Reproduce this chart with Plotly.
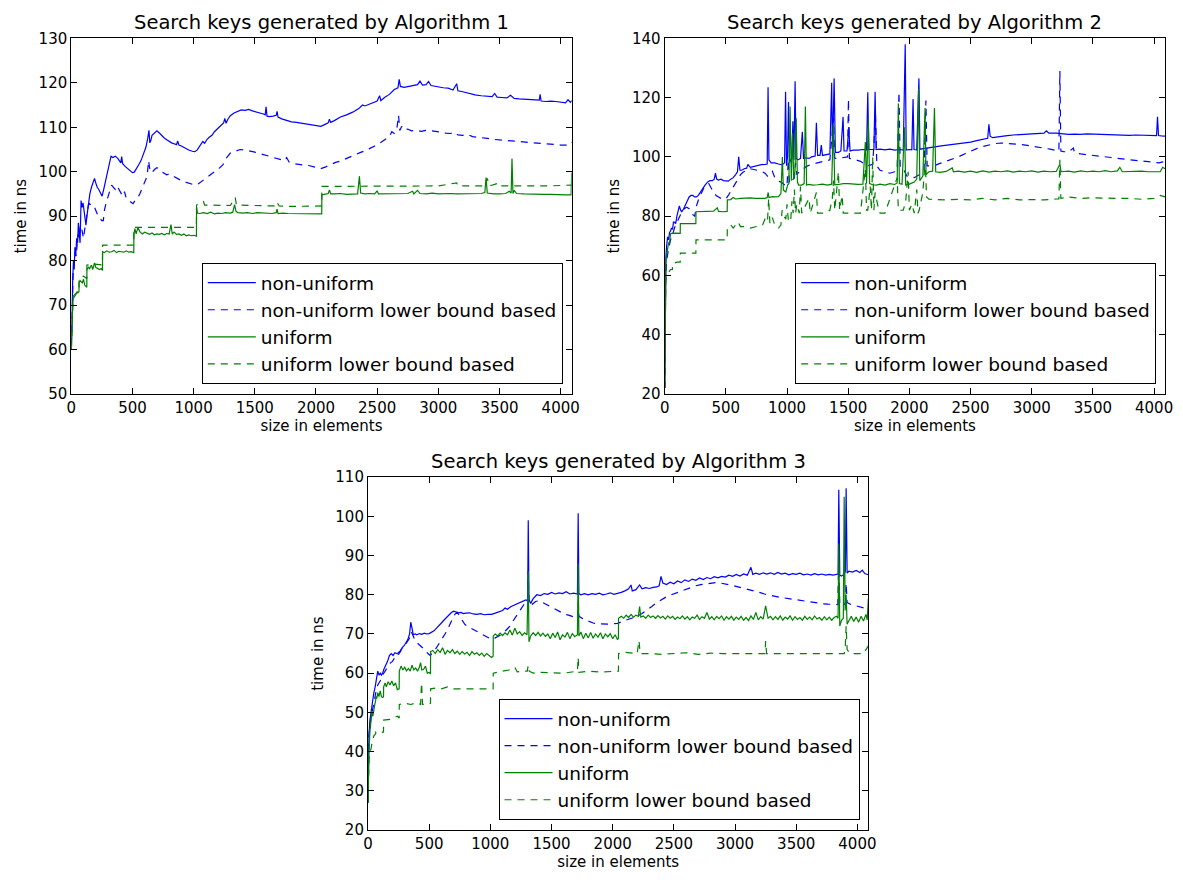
import plotly.graph_objects as go

# ---------------------------------------------------------------------------
# Measured lookup times (ns) against array size (elements), as (size, time).
# ---------------------------------------------------------------------------

ALG1_NONUNIFORM = [
    (1, 61), (6, 70), (12, 76), (18, 80), (24, 78), (30, 83), (36, 81), (44, 85), (52, 84), (58, 88.5),
    (64, 86), (72, 84), (80, 93.5), (88, 92), (96, 93), (104, 91), (112, 89), (120, 88), (128, 90), (140, 93),
    (152, 95), (165, 96.5), (178, 97.5), (190, 98.5), (200, 97.5), (212, 96.5), (225, 96), (240, 95), (252, 94.5),
    (265, 96), (280, 98), (295, 100), (310, 101.5), (325, 103.5), (340, 103.2), (360, 103.5), (380, 103),
    (395, 102.5), (405, 102), (412, 103.4), (420, 101.8), (440, 101.2), (460, 100.7), (480, 100.2), (500, 99.8),
    (515, 99.9), (530, 100.5), (550, 101.5), (570, 102.5), (590, 104), (610, 105.5), (625, 107.5), (635, 109.3),
    (642, 106.5), (650, 107), (660, 108.2), (680, 108.8), (700, 109.2), (720, 108.7), (740, 108.1), (760, 107.6),
    (780, 107.2), (800, 106.8), (820, 106.5), (840, 106.3), (860, 106.1), (870, 106.9), (880, 106), (900, 105.8),
    (930, 105.3), (960, 104.9), (990, 104.6), (1010, 104.5), (1030, 104.9), (1045, 105.6), (1060, 106.3),
    (1075, 106.8), (1090, 106.4), (1110, 107.3), (1130, 107.8), (1150, 108.2), (1170, 109), (1190, 109.5),
    (1210, 109.9), (1230, 110.6), (1245, 111), (1255, 112), (1265, 110.9), (1280, 111.8), (1300, 112.6),
    (1330, 113.2), (1360, 113.6), (1390, 113.9), (1420, 113.8), (1450, 114), (1480, 113.7), (1510, 113.5),
    (1540, 113.2), (1570, 113), (1585, 112.8), (1592, 114.6), (1600, 112.5), (1620, 112.4), (1650, 112.5),
    (1675, 112.7), (1682, 113.6), (1690, 112.3), (1720, 111.9), (1760, 111.5), (1800, 111.2), (1840, 111.1),
    (1880, 110.9), (1920, 110.7), (1960, 110.5), (2000, 110.3), (2040, 110.2), (2070, 110.6), (2100, 111),
    (2110, 111.8), (2120, 111.1), (2150, 111.5), (2200, 112.3), (2250, 112.8), (2300, 113.4), (2350, 114.2),
    (2380, 115), (2400, 114.8), (2450, 115.4), (2500, 115.9), (2520, 117.1), (2530, 116), (2560, 116.7),
    (2600, 117.4), (2640, 118.5), (2670, 118.9), (2680, 120.8), (2690, 119.2), (2720, 119), (2760, 119.2),
    (2800, 119.3), (2830, 119.6), (2850, 120.4), (2870, 119.5), (2900, 119.6), (2920, 120.3), (2940, 119.4),
    (2970, 119.2), (3000, 119), (3040, 118.9), (3080, 118.8), (3120, 118.4), (3150, 119.8), (3160, 118.2),
    (3200, 118), (3250, 117.6), (3300, 117.3), (3350, 117.1), (3400, 117.0), (3440, 116.9), (3460, 117.6),
    (3480, 116.8), (3520, 116.7), (3560, 116.6), (3590, 117.2), (3620, 116.5), (3660, 116.4), (3700, 116.3),
    (3760, 116.1), (3800, 116), (3825, 116.1), (3832, 117.4), (3840, 115.9), (3880, 115.8), (3920, 115.9),
    (3960, 115.8), (4000, 115.6), (4040, 115.5), (4060, 116.2), (4080, 115.6), (4090, 116.0),
]

ALG1_NONUNIFORM_LB = [
    (1, 61), (8, 72), (16, 78), (24, 80), (32, 82), (40, 81), (48, 84), (56, 86), (64, 85), (72, 87.5), (80, 88),
    (90, 86), (100, 85), (110, 87), (120, 89), (130, 90.5), (140, 92.5), (150, 92.8), (160, 92.5), (175, 92.6),
    (190, 92), (205, 91), (220, 90), (235, 89.5), (250, 89), (262, 89), (272, 91.5), (285, 93), (300, 94.5),
    (315, 96), (330, 97), (345, 96.5), (360, 96), (375, 96.8), (390, 96), (405, 95.5), (420, 94.5), (435, 95.5),
    (450, 94), (470, 93.5), (490, 93), (505, 92.8), (520, 93.5), (540, 94), (560, 95), (580, 96.3), (600, 97.5),
    (620, 99), (632, 102.5), (645, 100), (660, 99.8), (680, 100.5), (700, 100.9), (720, 100.6), (740, 100),
    (760, 99.6), (780, 99.3), (800, 99.5), (830, 99), (860, 98.5), (900, 98), (940, 97.6), (980, 97.2),
    (1010, 97), (1040, 97.3), (1070, 97.9), (1100, 98.5), (1140, 99.3), (1180, 100.2), (1210, 100.8),
    (1240, 101.6), (1260, 102.8), (1280, 103.5), (1300, 104.2), (1340, 104.6), (1380, 105), (1420, 104.9),
    (1460, 104.7), (1500, 104.4), (1540, 104.1), (1580, 103.8), (1620, 103.5), (1660, 103.1), (1700, 102.8),
    (1740, 102.5), (1760, 103.2), (1780, 102.2), (1820, 101.8), (1860, 101.6), (1900, 101.5), (1940, 101.4),
    (1980, 101.1), (2000, 100.9), (2040, 100.7), (2080, 101.1), (2120, 101.6), (2160, 102.1), (2200, 102.4),
    (2240, 102.9), (2280, 103.4), (2320, 103.8), (2360, 104.3), (2400, 104.7), (2440, 105.2), (2480, 105.8),
    (2520, 106.4), (2560, 107.1), (2600, 107.9), (2620, 109), (2640, 108.6), (2660, 109.5), (2675, 112.7),
    (2685, 109.3), (2700, 110.2), (2720, 109.4), (2750, 109.6), (2780, 109.2), (2820, 109.3), (2860, 109.1),
    (2900, 109.3), (2940, 109.2), (2980, 109.1), (3020, 108.9), (3060, 108.7), (3100, 108.6), (3130, 108.9),
    (3160, 108.3), (3200, 108.2), (3240, 108.4), (3280, 107.9), (3320, 107.8), (3360, 107.6), (3400, 107.5),
    (3440, 107.3), (3480, 107.2), (3520, 107.1), (3560, 107.0), (3600, 106.9), (3640, 106.8), (3680, 106.7),
    (3720, 106.6), (3760, 106.5), (3800, 106.4), (3840, 106.3), (3880, 106.2), (3920, 106.2), (3960, 106.1),
    (4000, 106.0), (4040, 106.0), (4070, 105.9), (4090, 106.6),
]

ALG1_UNIFORM = [
    (1, 60), (4, 65), (8, 68), (12, 70), (16, 71.5), (24, 71.8), (32, 72), (40, 72.5), (48, 73), (56, 72.8),
    (63, 73), (64, 75), (72, 75.5), (80, 75.3), (90, 75), (100, 75.8), (110, 74.5), (120, 74.2), (127, 74),
    (128, 78), (140, 78.5), (150, 78.2), (165, 79), (175, 78), (190, 79.5), (200, 78.5), (215, 78.3), (230, 78),
    (245, 78.2), (255, 77.8), (256, 82), (270, 81.8), (290, 82.2), (310, 81.9), (330, 82), (350, 82.3),
    (370, 81.8), (390, 82.1), (410, 82), (430, 81.9), (450, 82.2), (470, 81.9), (490, 82), (511, 81.8),
    (512, 86), (520, 87.2), (530, 86), (545, 87.5), (560, 86.5), (580, 86), (600, 86.4), (620, 86.1),
    (640, 85.9), (660, 86.2), (680, 85.8), (700, 86), (720, 85.9), (740, 86.1), (760, 85.8), (780, 86.1),
    (800, 86), (815, 88.1), (825, 86), (840, 86.4), (860, 85.9), (880, 86), (900, 85.7), (920, 86),
    (940, 85.6), (960, 85.8), (980, 85.6), (1000, 85.7), (1023, 85.5), (1024, 92), (1032, 90.7), (1050, 90.6),
    (1080, 90.8), (1110, 90.6), (1140, 90.9), (1170, 90.5), (1200, 90.7), (1230, 90.6), (1260, 90.8),
    (1300, 90.7), (1320, 90.9), (1335, 92.6), (1345, 91.2), (1360, 90.8), (1400, 90.7), (1440, 90.8),
    (1480, 90.6), (1520, 90.8), (1560, 90.7), (1600, 90.7), (1640, 90.6), (1675, 90.8), (1682, 91.6),
    (1690, 90.6), (1730, 90.7), (1770, 90.6), (1810, 90.6), (1850, 90.6), (1890, 90.5), (1930, 90.6),
    (1970, 90.5), (2010, 90.5), (2047, 90.5), (2048, 94.8), (2070, 94.9), (2100, 95.1), (2110, 95.9),
    (2120, 95), (2150, 95), (2200, 95.1), (2250, 94.9), (2300, 95), (2340, 95), (2355, 99), (2365, 95.2),
    (2400, 95), (2440, 95.1), (2480, 95), (2500, 95.7), (2510, 95), (2560, 95), (2600, 95), (2650, 95.1),
    (2700, 95), (2750, 95.1), (2790, 95.6), (2800, 95), (2830, 95.8), (2850, 95.1), (2900, 95), (2950, 95.2),
    (3000, 95), (3050, 95.1), (3100, 95.1), (3150, 95), (3200, 95), (3250, 95.1), (3300, 95), (3350, 95.1),
    (3380, 95.3), (3390, 98.7), (3400, 95.2), (3450, 95), (3500, 95), (3550, 95.1), (3580, 95.6), (3595, 95.2),
    (3602, 103), (3610, 95.1), (3620, 95.8), (3640, 95.1), (3700, 95), (3760, 94.9), (3800, 94.9), (3860, 94.9),
    (3920, 94.9), (3980, 94.8), (4040, 94.8), (4085, 94.8), (4090, 99.8),
]

ALG1_UNIFORM_LB = [
    (1, 60), (8, 68), (16, 72), (32, 72.5), (63, 73), (64, 76), (100, 76.5), (127, 76), (128, 79), (190, 79.2),
    (255, 79), (256, 83.5), (300, 83.5), (350, 83.6), (400, 83.5), (450, 83.5), (511, 83.5), (512, 87.5),
    (600, 87.5), (700, 87.5), (800, 87.4), (900, 87.5), (1023, 87.5), (1024, 92.5), (1080, 93.3), (1090, 92.5),
    (1200, 92.5), (1300, 92.4), (1340, 94.2), (1350, 92.5), (1500, 92.4), (1660, 92.3), (1680, 93.2),
    (1700, 92.3), (1800, 92.2), (1900, 92.3), (2047, 92.3), (2048, 96.7), (2200, 96.7), (2400, 96.8),
    (2600, 96.7), (2800, 96.8), (3000, 96.8), (3150, 97.5), (3160, 96.8), (3380, 96.8), (3400, 98.5),
    (3420, 96.8), (3500, 97.5), (3520, 96.8), (3700, 96.8), (3900, 96.8), (4090, 97.0),
]

ALG2_NONUNIFORM = [
    (1, 22), (3, 50), (6, 62), (10, 66), (16, 70), (24, 73), (32, 72), (40, 74.5), (48, 75), (56, 76),
    (64, 75.5), (72, 78), (80, 78), (90, 77.5), (100, 80), (110, 82.5), (120, 83.5), (130, 82), (140, 81.5),
    (155, 82.5), (170, 84), (185, 85.5), (200, 86.5), (215, 87), (230, 87), (245, 86.5), (260, 86.5), (275, 87),
    (290, 88), (310, 89), (330, 90.5), (350, 91.5), (370, 92), (390, 92), (405, 92.5), (415, 94.5), (425, 92.5),
    (440, 92.2), (460, 92.5), (480, 92), (500, 91.8), (520, 91.8), (540, 92.5), (560, 93), (580, 94), (595, 95),
    (605, 100), (615, 95.5), (630, 95.5), (650, 96), (670, 96.2), (680, 97.5), (700, 96.5), (730, 96.8),
    (760, 97.2), (790, 97.4), (820, 97.5), (838, 97.6), (845, 123.5), (852, 99), (870, 98), (900, 98),
    (930, 97.6), (960, 97.3), (980, 98), (988, 122), (996, 97), (1004, 100), (1012, 118.5), (1020, 98),
    (1030, 99), (1040, 100), (1048, 112), (1056, 99), (1066, 125.5), (1074, 99.5), (1090, 99), (1110, 99.5),
    (1125, 108.5), (1135, 99.5), (1150, 99.7), (1180, 99.5), (1200, 100), (1230, 100.3), (1240, 111.5),
    (1250, 100.5), (1270, 100.5), (1280, 104), (1290, 100.5), (1320, 100.8), (1350, 101), (1365, 125),
    (1372, 101), (1385, 126.5), (1395, 101.5), (1420, 101.5), (1440, 102), (1458, 113.5), (1466, 102),
    (1490, 102), (1505, 110), (1515, 102), (1540, 102.3), (1580, 102.3), (1620, 102.5), (1650, 102.3),
    (1660, 121.8), (1668, 102.5), (1690, 102.6), (1710, 102.5), (1720, 122), (1728, 102.5), (1760, 102.6),
    (1800, 102.4), (1840, 102.6), (1880, 102.3), (1920, 102.5), (1950, 102.3), (1966, 138), (1974, 102.3),
    (2000, 102.5), (2020, 102.4), (2030, 119.5), (2038, 102.5), (2060, 102.4), (2078, 126.5), (2086, 102.6),
    (2110, 102.8), (2140, 103), (2180, 103.2), (2220, 103.5), (2260, 103.7), (2300, 103.9), (2350, 104.2),
    (2400, 104.4), (2450, 104.7), (2500, 105), (2550, 105.5), (2600, 106), (2640, 106.3), (2650, 111),
    (2660, 107), (2680, 106.5), (2720, 106.8), (2760, 107), (2800, 107.2), (2850, 107.4), (2900, 107.5),
    (2950, 107.6), (3000, 107.7), (3050, 107.8), (3100, 108), (3120, 108.8), (3140, 108), (3200, 108),
    (3250, 107.8), (3300, 107.6), (3350, 107.7), (3400, 107.6), (3450, 107.8), (3500, 107.7), (3550, 107.6),
    (3600, 107.6), (3650, 107.5), (3700, 107.5), (3750, 107.4), (3800, 107.3), (3850, 107.4), (3900, 107.3),
    (3950, 107.3), (4000, 107.2), (4020, 107.2), (4028, 113.5), (4036, 107.2), (4060, 107.1), (4090, 107),
]

ALG2_NONUNIFORM_LB = [
    (1, 22), (4, 52), (8, 60), (16, 65), (24, 68), (32, 69), (48, 72), (64, 73.5), (80, 76), (100, 78),
    (120, 80), (140, 81.5), (160, 82.5), (180, 83), (200, 82.5), (215, 81.5), (230, 80.5), (245, 80),
    (260, 83.5), (280, 86), (300, 88), (320, 89.5), (340, 90.5), (360, 91), (380, 89.5), (400, 88), (420, 87),
    (440, 86.5), (460, 86), (480, 85.8), (500, 85.8), (520, 87), (540, 88.5), (560, 90), (580, 91.5), (600, 93),
    (620, 94), (640, 94.8), (660, 95.3), (680, 95.8), (700, 96), (730, 95.8), (760, 95.5), (790, 95.2),
    (820, 94.5), (840, 93.5), (860, 94.5), (880, 95.2), (900, 93), (920, 92), (950, 91.5), (980, 90.5),
    (1000, 90), (1010, 99), (1020, 91), (1040, 92), (1060, 93), (1070, 98), (1080, 94), (1100, 95),
    (1130, 96), (1160, 96.8), (1200, 97.5), (1250, 98), (1300, 98.5), (1350, 99), (1380, 113), (1390, 99.5),
    (1420, 99.5), (1460, 99.7), (1495, 100), (1502, 119.5), (1510, 99.5), (1550, 99.2), (1600, 98.5),
    (1640, 97.5), (1660, 97), (1700, 97.5), (1710, 104), (1722, 116), (1734, 97), (1760, 95.5), (1800, 95),
    (1840, 94.5), (1880, 95), (1900, 95.5), (1915, 122), (1925, 96.5), (1950, 96), (1980, 93.5), (2000, 93.5),
    (2040, 93), (2080, 94), (2100, 95), (2120, 95.5), (2135, 119), (2145, 97), (2170, 97), (2200, 97),
    (2250, 97.8), (2300, 98.5), (2350, 99.2), (2400, 100), (2450, 101), (2500, 102), (2550, 102.8),
    (2600, 103.5), (2650, 104), (2700, 104.5), (2750, 104.7), (2800, 104.6), (2850, 104.4), (2900, 104.2),
    (2950, 104), (3000, 103.7), (3050, 103.3), (3100, 103), (3150, 102.6), (3200, 102.2), (3222, 102),
    (3230, 129), (3238, 102), (3260, 101.8), (3300, 101.6), (3340, 103), (3350, 101.4), (3400, 101),
    (3450, 100.8), (3500, 100.5), (3550, 100.3), (3600, 100), (3650, 99.8), (3700, 99.5), (3750, 99.3),
    (3800, 99), (3850, 98.8), (3900, 98.6), (3950, 98.4), (4000, 98.2), (4040, 98), (4070, 98.3), (4090, 99),
]

ALG2_UNIFORM = [
    (1, 22), (3, 48), (6, 58), (10, 64), (16, 67), (24, 70), (32, 71), (40, 71), (48, 74), (63, 74.3),
    (64, 74.2), (90, 74.3), (127, 74.2), (128, 77.5), (160, 77.5), (200, 77.6), (230, 77.4), (255, 77.5),
    (256, 81.5), (300, 81.6), (350, 81.5), (400, 81.7), (430, 82.8), (440, 81.6), (480, 81.5), (511, 81.6),
    (512, 85.5), (540, 85.6), (560, 86.3), (580, 85.8), (620, 86), (660, 86.1), (700, 86.2), (740, 86),
    (780, 86.1), (820, 86), (838, 86.3), (846, 88), (852, 86.3), (880, 86.6), (900, 86.5), (930, 86.6),
    (950, 87.6), (962, 100), (970, 88.8), (990, 88.2), (1005, 90.5), (1015, 91), (1025, 117), (1035, 92),
    (1045, 108), (1055, 92.5), (1065, 95), (1075, 113), (1085, 91.5), (1095, 90.5), (1120, 90.5), (1140, 91),
    (1150, 117), (1160, 90.5), (1180, 90.7), (1210, 90.5), (1250, 90.6), (1290, 90.8), (1330, 90.5),
    (1365, 90.8), (1378, 111), (1390, 90.6), (1420, 90.7), (1460, 91), (1500, 91), (1540, 90.8), (1580, 90.7),
    (1620, 90.8), (1640, 105), (1650, 91), (1665, 113), (1675, 91), (1700, 90.6), (1730, 90.5), (1760, 90.8),
    (1800, 90.5), (1840, 91), (1880, 90.7), (1900, 91.2), (1910, 118), (1918, 91), (1940, 90.8), (1960, 110),
    (1970, 90.5), (2000, 90.8), (2040, 91.5), (2060, 92.5), (2075, 123), (2085, 92), (2110, 93.5),
    (2128, 116.5), (2136, 94), (2160, 95), (2190, 95.2), (2205, 116.5), (2215, 95), (2250, 94.8), (2300, 95.1),
    (2350, 96.3), (2360, 95), (2400, 95.2), (2450, 94.9), (2500, 95.2), (2550, 94.8), (2600, 95.3),
    (2650, 94.9), (2700, 95.2), (2750, 95), (2800, 95.3), (2850, 94.9), (2900, 95.2), (2950, 95), (3000, 95.3),
    (3050, 94.9), (3100, 95.2), (3150, 95), (3200, 95.1), (3230, 97.5), (3240, 95), (3300, 95.2),
    (3350, 94.9), (3400, 95.3), (3450, 95), (3500, 95.2), (3550, 95), (3600, 95.4), (3650, 95), (3700, 95.3),
    (3720, 96.5), (3740, 95), (3800, 95.1), (3850, 95), (3900, 95.2), (3950, 95), (4000, 95.1), (4050, 95),
    (4070, 96.5), (4090, 96),
]

ALG2_UNIFORM_LB = [
    (1, 22), (4, 50), (8, 58), (16, 60), (32, 61), (48, 62), (63, 62), (64, 64), (100, 64.5), (127, 64.5),
    (128, 67.5), (180, 67.5), (255, 67.5), (256, 72), (300, 72), (400, 72), (511, 72), (512, 76), (540, 77),
    (560, 76), (600, 78), (620, 76.5), (660, 76.5), (700, 76), (750, 76.5), (800, 77), (820, 79), (840, 78),
    (850, 86), (860, 77.5), (880, 79.5), (900, 77), (930, 76), (950, 77), (960, 82), (975, 80), (990, 79),
    (1000, 84), (1010, 79), (1020, 78), (1030, 78.5), (1040, 85), (1050, 81), (1060, 89), (1070, 81),
    (1080, 84), (1100, 81), (1110, 90), (1120, 81), (1180, 86), (1190, 81), (1240, 88), (1250, 81),
    (1300, 81), (1350, 82), (1370, 86), (1380, 92), (1390, 82), (1420, 95), (1430, 82), (1450, 87),
    (1460, 81), (1500, 81), (1600, 81), (1640, 96), (1650, 82), (1660, 82), (1680, 90), (1690, 82),
    (1700, 100), (1710, 82), (1720, 88), (1740, 84), (1760, 81), (1800, 81), (1900, 93), (1910, 82),
    (1950, 82), (1970, 85), (1990, 95), (2000, 82), (2020, 84), (2040, 81), (2060, 89), (2070, 81),
    (2080, 82), (2110, 88), (2130, 99), (2140, 86.5), (2160, 85.7), (2200, 85.6), (2300, 85.5), (2400, 85.7),
    (2500, 85.5), (2600, 86), (2700, 85.5), (2800, 86), (2900, 85.5), (3000, 85.6), (3100, 85.5), (3200, 85.8),
    (3222, 85.8), (3230, 99), (3238, 86), (3300, 86.5), (3400, 86), (3500, 86.2), (3600, 86), (3700, 86),
    (3800, 86), (3900, 85.7), (4000, 86), (4050, 87), (4090, 86.5),
]

ALG3_NONUNIFORM = [
    (1, 27), (4, 38), (8, 44), (16, 48), (24, 50), (32, 52), (40, 53), (48, 55), (56, 56), (64, 58), (72, 59),
    (80, 60.5), (90, 59.5), (100, 60), (110, 59.5), (120, 60), (130, 61), (145, 62), (160, 63), (175, 64.5),
    (190, 65), (205, 64.5), (220, 65.2), (235, 65), (250, 64.8), (265, 65.5), (280, 66.5), (295, 67),
    (310, 67.8), (325, 68.5), (340, 70), (350, 73), (360, 71.5), (370, 69.8), (385, 70), (400, 69.8),
    (420, 70.1), (440, 69.9), (460, 70.2), (480, 70), (500, 70.1), (520, 70.5), (540, 70.8), (560, 71.5),
    (580, 72.3), (600, 72.8), (620, 73.5), (640, 74.2), (660, 74.8), (680, 75.4), (700, 75.8), (720, 75.5),
    (740, 75.4), (760, 75.5), (780, 75.2), (800, 75.3), (830, 75.4), (860, 75.1), (890, 75), (920, 75.2),
    (950, 74.9), (980, 75), (1010, 75), (1040, 75.3), (1070, 75.6), (1100, 76), (1120, 76.6), (1140, 76.3),
    (1170, 77), (1200, 77.4), (1230, 77.8), (1260, 78.4), (1290, 78.7), (1305, 78.5), (1310, 99), (1316, 78.8),
    (1330, 77.8), (1350, 79), (1380, 80), (1410, 79.8), (1440, 80.3), (1470, 80.1), (1500, 80.6), (1530, 80.2),
    (1560, 80.5), (1590, 80.3), (1620, 80.8), (1650, 80.2), (1680, 80.4), (1712, 80.2), (1718, 100.8),
    (1724, 80.3), (1740, 80), (1770, 80.3), (1800, 80), (1830, 80.3), (1860, 80.1), (1890, 80.4), (1920, 80),
    (1950, 80.2), (1980, 80.5), (2010, 80.1), (2040, 80.3), (2070, 80.6), (2100, 81), (2130, 81.5),
    (2150, 82.5), (2160, 81), (2190, 81.3), (2220, 82.5), (2240, 81.5), (2270, 81.8), (2300, 81.6),
    (2330, 81.9), (2360, 82), (2380, 82.3), (2395, 84.7), (2410, 83), (2440, 82.6), (2470, 83.2), (2500, 82.8),
    (2530, 83.5), (2560, 83.1), (2590, 83.8), (2620, 83.4), (2650, 84), (2680, 83.7), (2710, 84.3),
    (2740, 83.9), (2770, 84.4), (2800, 84.1), (2830, 84.6), (2860, 84.3), (2890, 84.7), (2920, 84.5),
    (2950, 85), (2980, 84.7), (3010, 85.2), (3040, 84.8), (3070, 85.3), (3100, 85), (3130, 87), (3145, 85.2),
    (3170, 85.5), (3200, 85.2), (3230, 85.6), (3260, 85.3), (3290, 85.6), (3320, 85.2), (3350, 85.7),
    (3380, 85.3), (3410, 85.5), (3440, 85.1), (3470, 85.4), (3500, 85.2), (3530, 85.5), (3560, 85.1),
    (3590, 85.3), (3620, 85), (3650, 85.4), (3680, 85.1), (3710, 85.3), (3740, 85), (3770, 85.2), (3800, 85),
    (3830, 85.1), (3842, 85.3), (3848, 106.8), (3856, 85), (3870, 84.8), (3890, 85.2), (3902, 86),
    (3908, 107.2), (3916, 85.5), (3930, 86), (3960, 85.8), (3990, 86.2), (4020, 85.7), (4040, 86.3),
    (4060, 85.4), (4090, 85.1),
]

ALG3_NONUNIFORM_LB = [
    (1, 27), (4, 38), (8, 44), (16, 47), (32, 50), (48, 53), (64, 55), (80, 57), (100, 58), (120, 59.5),
    (140, 60.5), (160, 61.5), (180, 62.5), (200, 63), (220, 64), (240, 65), (260, 65.5), (280, 66.5),
    (300, 67), (320, 68), (340, 69), (355, 70.5), (370, 69.5), (390, 68), (410, 67.5), (430, 67), (450, 66.5),
    (470, 65.8), (490, 65), (510, 64.5), (530, 65.5), (550, 66), (570, 67), (590, 68), (610, 69), (630, 70),
    (650, 71), (670, 72.5), (690, 74), (710, 75), (730, 75.5), (750, 74.5), (770, 73.5), (790, 72.5),
    (810, 72), (840, 71.5), (870, 71), (900, 70.5), (930, 70), (960, 69.3), (990, 68.8), (1010, 68.6),
    (1040, 69), (1070, 69.5), (1100, 70), (1130, 71), (1160, 72), (1190, 73.5), (1220, 75), (1250, 76.5),
    (1280, 77.8), (1305, 78.3), (1310, 86), (1316, 77.5), (1340, 77.5), (1370, 78.3), (1400, 78.5),
    (1430, 78), (1460, 77.6), (1490, 77), (1520, 76.5), (1550, 76), (1580, 75.5), (1610, 75), (1640, 74.8),
    (1670, 74.5), (1700, 74.2), (1712, 74), (1718, 78), (1724, 74.5), (1760, 73.8), (1800, 73.2),
    (1840, 72.8), (1880, 72.6), (1920, 72.5), (1960, 72.5), (2000, 72.6), (2040, 72.7), (2080, 73.2),
    (2120, 73.6), (2160, 74), (2200, 74.5), (2240, 75.2), (2280, 76), (2320, 77), (2360, 78), (2400, 78.8),
    (2440, 79.5), (2480, 80), (2520, 80.5), (2560, 81), (2600, 81.5), (2640, 81.9), (2680, 82.3),
    (2720, 82.6), (2760, 82.8), (2800, 83), (2840, 83.1), (2880, 83), (2920, 82.8), (2960, 82.5), (3000, 82.2),
    (3040, 81.9), (3080, 81.6), (3120, 81.3), (3160, 81), (3200, 80.6), (3240, 80.2), (3280, 79.9),
    (3320, 79.6), (3360, 79.4), (3400, 79.2), (3440, 79), (3480, 78.8), (3520, 78.6), (3560, 78.4),
    (3600, 78.2), (3640, 78), (3680, 77.8), (3720, 77.7), (3760, 77.6), (3800, 77.5), (3840, 77.5),
    (3848, 90), (3856, 77.5), (3890, 77.4), (3902, 78), (3908, 83), (3916, 78), (3950, 77.5), (4000, 77),
    (4040, 76.8), (4070, 76.5), (4090, 76.5),
]

ALG3_UNIFORM = [
    (1, 27), (4, 35), (8, 40), (16, 45), (24, 48), (32, 50), (40, 49), (48, 51), (56, 52), (63, 53), (64, 54),
    (72, 53.5), (80, 55), (90, 54), (100, 55.5), (110, 54), (120, 53.8), (127, 54), (128, 56.5), (140, 57.5),
    (150, 56.5), (165, 57.8), (180, 57), (195, 58), (210, 56.8), (225, 57.5), (240, 55.8), (255, 56),
    (256, 60.5), (270, 61.8), (285, 60.8), (300, 61.5), (315, 60.6), (330, 61.2), (345, 60.5), (360, 62),
    (375, 60.8), (390, 61.3), (405, 60.5), (420, 61.5), (430, 62.7), (440, 60.8), (455, 61), (470, 61.8),
    (485, 60), (500, 60.2), (511, 59.8), (512, 65.5), (530, 65.8), (550, 65), (570, 66), (590, 65.3),
    (610, 66.5), (630, 64.8), (650, 65.8), (670, 65.2), (690, 66), (710, 65), (730, 65.6), (750, 64.8),
    (770, 65.5), (790, 64.9), (810, 65.3), (830, 64.5), (850, 65.5), (870, 64.8), (890, 65.2), (910, 64.5),
    (930, 65.1), (950, 64.3), (970, 65), (990, 64.5), (1010, 64), (1023, 64.3), (1024, 69.5), (1040, 70),
    (1060, 69.5), (1080, 70.2), (1100, 69.6), (1120, 70.3), (1140, 69.8), (1160, 71), (1180, 69.7),
    (1200, 71.5), (1220, 70), (1240, 70.6), (1260, 69.6), (1280, 70.3), (1300, 69.8), (1310, 86), (1316, 68),
    (1330, 69.5), (1350, 70.3), (1370, 69.6), (1390, 70.4), (1410, 69.5), (1430, 70.2), (1450, 69.4),
    (1470, 70), (1490, 68.8), (1510, 70.2), (1530, 69.1), (1550, 70.5), (1570, 68.5), (1590, 69.8),
    (1610, 69.2), (1630, 70.4), (1650, 68.8), (1670, 70.1), (1690, 69.3), (1712, 69.8), (1718, 88),
    (1724, 69.5), (1740, 70.5), (1760, 68.8), (1780, 70.2), (1800, 69), (1820, 70.4), (1840, 68.9),
    (1860, 70), (1880, 69.2), (1900, 70.3), (1920, 68.8), (1940, 70), (1960, 69.3), (1980, 70.1),
    (2000, 68.8), (2020, 69.8), (2040, 68.5), (2047, 69), (2048, 74), (2070, 74.5), (2090, 74), (2110, 74.8),
    (2130, 74.2), (2150, 75), (2170, 74.3), (2190, 74.8), (2210, 74.5), (2220, 77), (2230, 74.3),
    (2250, 74.6), (2270, 74), (2290, 74.8), (2310, 74.2), (2330, 74.6), (2350, 74), (2370, 74.7),
    (2390, 74.1), (2410, 74.5), (2430, 73.8), (2450, 74.6), (2470, 74), (2490, 74.5), (2510, 73.7),
    (2530, 74.3), (2550, 73.9), (2570, 74.6), (2590, 73.8), (2610, 74.4), (2630, 73.6), (2650, 74.3),
    (2670, 74), (2690, 74.8), (2710, 73.7), (2730, 74.4), (2750, 74), (2770, 75.5), (2790, 73.8),
    (2810, 74.4), (2830, 73.6), (2850, 74.5), (2870, 73.9), (2890, 74.6), (2910, 73.5), (2930, 74.4),
    (2950, 73.8), (2970, 74.5), (2990, 73.5), (3010, 74.3), (3030, 73.7), (3050, 74.5), (3070, 73.5),
    (3090, 74.2), (3110, 73.4), (3130, 74.6), (3150, 73.7), (3170, 75.5), (3190, 73.6), (3210, 74.4),
    (3230, 73.8), (3250, 77.2), (3270, 74), (3290, 74.5), (3310, 73.6), (3330, 74.4), (3350, 73.7),
    (3370, 74.6), (3390, 73.5), (3410, 74.3), (3430, 73.8), (3450, 74.6), (3470, 73.5), (3490, 74.4),
    (3510, 73.7), (3530, 74.2), (3550, 73.5), (3570, 74.5), (3590, 73.7), (3610, 74.3), (3630, 73.6),
    (3650, 74.6), (3670, 73.8), (3690, 74.2), (3710, 73.5), (3730, 74.4), (3750, 73.6), (3770, 74.3),
    (3790, 73.5), (3810, 74.2), (3830, 74.5), (3842, 74), (3848, 93), (3856, 72), (3870, 73.5), (3885, 74),
    (3892, 105), (3900, 76), (3908, 80), (3916, 72.5), (3930, 73.5), (3950, 74.5), (3970, 73.2), (3990, 74.3),
    (4010, 73), (4030, 74.5), (4050, 73.3), (4070, 75), (4080, 73.6), (4090, 79),
]

ALG3_UNIFORM_LB = [
    (1, 27), (4, 33), (8, 38), (16, 40), (24, 40.5), (32, 42), (48, 44), (63, 44.5), (64, 45), (100, 44.8),
    (127, 45), (128, 48), (180, 48.2), (200, 48.5), (240, 49), (255, 48.5), (256, 52), (300, 52.3), (350, 52),
    (400, 52.5), (430, 52), (438, 57.5), (446, 52), (480, 52), (511, 52.3), (512, 56), (560, 56.2), (600, 56),
    (650, 56.5), (700, 56), (760, 56), (800, 56), (900, 56), (1000, 56), (1023, 56), (1024, 60), (1060, 60.2),
    (1100, 60.5), (1150, 60.8), (1200, 61.5), (1220, 60.3), (1260, 60.5), (1302, 60.5), (1310, 62),
    (1318, 60.5), (1350, 60), (1400, 60.2), (1500, 60.1), (1600, 60), (1712, 60.5), (1718, 64), (1724, 60.2),
    (1800, 60.5), (1900, 60.3), (2000, 60.5), (2047, 60.5), (2048, 65), (2100, 65.3), (2200, 65),
    (2215, 68.3), (2225, 65), (2300, 65), (2400, 64.8), (2500, 65), (2600, 65.2), (2700, 64.8), (2800, 65.1),
    (2900, 65), (3000, 65), (3100, 64.9), (3200, 65), (3245, 65), (3250, 68.2), (3258, 65), (3400, 65),
    (3500, 65), (3600, 65), (3700, 65.1), (3800, 65), (3842, 65), (3856, 65), (3892, 65), (3900, 66),
    (3908, 72), (3916, 66), (3940, 65), (4000, 65), (4050, 65), (4090, 67),
]

SERIES_NAMES = ["non-uniform", "non-uniform lower bound based", "uniform", "uniform lower bound based"]
PANEL_TITLES = [
    "Search keys generated by Algorithm 1",
    "Search keys generated by Algorithm 2",
    "Search keys generated by Algorithm 3",
]
X_TICKS = [0, 500, 1000, 1500, 2000, 2500, 3000, 3500, 4000]
Y_RANGES = [(50, 130, 10), (20, 140, 20), (20, 110, 10)]
X_MAX = 4090

PANEL_DATA = [
    [ALG1_NONUNIFORM, ALG1_NONUNIFORM_LB, ALG1_UNIFORM, ALG1_UNIFORM_LB],
    [ALG2_NONUNIFORM, ALG2_NONUNIFORM_LB, ALG2_UNIFORM, ALG2_UNIFORM_LB],
    [ALG3_NONUNIFORM, ALG3_NONUNIFORM_LB, ALG3_UNIFORM, ALG3_UNIFORM_LB],
]

# ---------------------------------------------------------------------------
# Styling and layout
# ---------------------------------------------------------------------------
W, H = 1183, 880
FONT = "DejaVu Sans"
BLUE, GREEN = "#0000ff", "#008000"
DASH = "7px,6px"
STYLES = [(BLUE, "solid"), (BLUE, DASH), (GREEN, "solid"), (GREEN, DASH)]

# axes boxes in pixels: left, right, top, bottom
BOXES = [(67, 573, 30, 393), (667, 1173, 30, 393), (367, 873, 478, 838)]


def px_x(v):
    return v / W


def px_y(v):
    return 1 - v / H


fig = go.Figure()

for p, (series_list, box) in enumerate(zip(PANEL_DATA, BOXES)):
    suffix = "" if p == 0 else str(p + 1)
    legend_id = "legend" + suffix
    for name, pts, (color, dash) in zip(SERIES_NAMES, series_list, STYLES):
        xs = [a for a, _ in pts]
        ys = [b for _, b in pts]
        fig.add_trace(go.Scatter(
            x=xs, y=ys, mode="lines", name=name,
            line=dict(color=color, width=1.2, dash=dash),
            xaxis="x" + suffix, yaxis="y" + suffix,
            legend=legend_id, showlegend=True,
        ))

axis_common = dict(
    showgrid=False, zeroline=False, showline=True, linecolor="black", linewidth=1,
    mirror="allticks", ticks="inside", ticklen=6, tickwidth=1, tickcolor="black",
    tickfont=dict(family=FONT, size=15, color="black"),
)

layout = dict(
    width=W, height=H, margin=dict(l=0, r=0, t=0, b=0),
    paper_bgcolor="white", plot_bgcolor="white",
    font=dict(family=FONT, color="black"),
    annotations=[],
)

for p, box in enumerate(BOXES):
    suffix = "" if p == 0 else str(p + 1)
    left, right, top, bottom = box
    y0, y1, dy = Y_RANGES[p]
    layout["xaxis" + suffix] = dict(
        axis_common, domain=[px_x(left), px_x(right)], range=[0, X_MAX],
        tickvals=X_TICKS, ticktext=[str(t) for t in X_TICKS],
        anchor="y" + suffix,
        title=dict(text="size in elements", font=dict(family=FONT, size=15), standoff=4),
    )
    layout["yaxis" + suffix] = dict(
        axis_common, domain=[px_y(bottom), px_y(top)], range=[y0, y1],
        tickvals=list(range(y0, y1 + 1, dy)),
        anchor="x" + suffix,
        title=dict(text="time in ns", font=dict(family=FONT, size=15), standoff=8),
    )
    layout["legend" + suffix] = dict(
        x=px_x(right - 9), y=px_y(bottom - 10), xanchor="right", yanchor="bottom",
        xref="paper", yref="paper",
        bgcolor="white", bordercolor="black", borderwidth=1,
        font=dict(family=FONT, size=18.5, color="black"),
        tracegroupgap=0, itemwidth=48,
    )
    layout["annotations"].append(dict(
        text=PANEL_TITLES[p], x=(px_x(left) + px_x(right)) / 2, y=px_y(top),
        xref="paper", yref="paper", xanchor="center", yanchor="bottom", yshift=2,
        showarrow=False, font=dict(family=FONT, size=19.5, color="black"),
    ))

fig.update_layout(**layout)
fig.write_html("out.html")
